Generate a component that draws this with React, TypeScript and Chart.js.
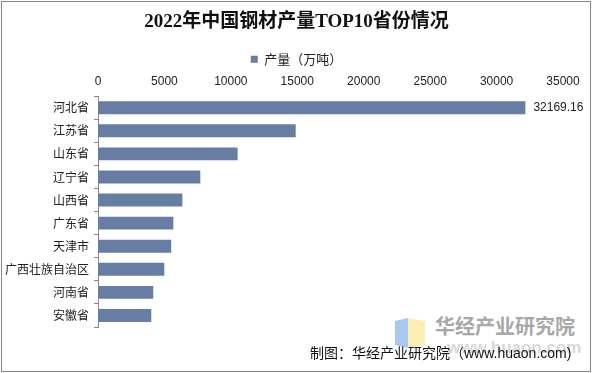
import React, { useEffect, useRef } from "react";
import { Chart, registerables } from "chart.js";

Chart.register(...registerables);

const title = "2022年中国钢材产量TOP10省份情况";
const seriesName = "产量（万吨）";
const provinces = ["河北省", "江苏省", "山东省", "辽宁省", "山西省", "广东省", "天津市", "广西壮族自治区", "河南省", "安徽省"];
const output = [32169.16, 14880, 10510, 7700, 6350, 5670, 5510, 4990, 4160, 4010];
const labelledIndex = [0];
const xMin = 0;
const xMax = 35000;
const xStep = 5000;

const barColor = "#667ea3";

const valueLabelPlugin = {
  id: "valueLabel",
  afterDatasetsDraw(chart: any) {
    const ctx = chart.ctx;
    const meta = chart.getDatasetMeta(0);
    ctx.save();
    ctx.font = '12px "Liberation Sans", Arial, sans-serif';
    ctx.fillStyle = "#222";
    ctx.textAlign = "left";
    ctx.textBaseline = "middle";
    labelledIndex.forEach((i) => {
      const el = meta.data[i];
      if (!el) return;
      ctx.fillText(String(output[i]), el.x + 8, el.y);
    });
    ctx.restore();
  },
};

export default function App() {
  const ref = useRef<HTMLCanvasElement>(null);
  useEffect(() => {
    if (!ref.current) return;
    const chart = new Chart(ref.current, {
      type: "bar",
      data: {
        labels: provinces,
        datasets: [
          {
            label: seriesName,
            data: output,
            backgroundColor: barColor,
            borderWidth: 0,
            categoryPercentage: 1,
            barPercentage: 0.56,
          },
        ],
      },
      options: {
        indexAxis: "y",
        responsive: false,
        animation: false,
        devicePixelRatio: 1,
        layout: { padding: { left: 0, right: 0, bottom: 46, top: 0 } },
        plugins: {
          tooltip: { enabled: false },
          title: {
            display: true,
            text: title,
            color: "#111",
            font: { family: '"Liberation Serif", "Noto Sans CJK SC", serif', size: 19, weight: "bold" },
            padding: { top: 11, bottom: 16 },
          },
          legend: {
            display: true,
            position: "top",
            maxHeight: 18,
            labels: {
              color: "#222",
              boxWidth: 7,
              boxHeight: 7,
              padding: 3,
              font: { family: '"Noto Sans CJK SC", sans-serif', size: 13 },
            },
          },
        },
        scales: {
          x: {
            position: "top",
            min: xMin,
            max: xMax,
            afterFit: (s: any) => {
              s.paddingRight = 30;
            },
            ticks: {
              stepSize: xStep,
              color: "#222",
              padding: 7,
              font: { family: '"Liberation Sans", Arial, sans-serif', size: 12 },
              callback: (v: any) => String(v),
            },
            grid: { display: false, drawTicks: false },
            border: { display: false },
          },
          y: {
            ticks: {
              color: "#222",
              padding: 5,
              font: { family: '"Noto Sans CJK SC", sans-serif', size: 12 },
            },
            grid: {
              drawOnChartArea: false,
              drawTicks: true,
              tickLength: 4,
              offset: true,
              color: "#888",
            },
            border: { display: true, color: "#888", width: 1 },
          },
        },
      },
      plugins: [valueLabelPlugin],
    });
    return () => chart.destroy();
  }, []);

  return (
    <div style={{ position: "fixed", left: 0, top: 0, width: 593, height: 373, background: "#fff", overflow: "hidden" }}>
      <div style={{ position: "absolute", left: 1, top: 1, width: 590, height: 371, boxSizing: "border-box", border: "1px solid #858585" }} />
      {/* watermark */}
      <div style={{ position: "absolute", left: 395, top: 318, width: 13, height: 30, background: "#a9c8ef", clipPath: "polygon(0 10%, 100% 0, 100% 100%, 0 90%)" }} />
      <div style={{ position: "absolute", left: 408, top: 318, width: 17, height: 30, background: "#fcefb4", clipPath: "polygon(0 0, 100% 10%, 100% 90%, 0 100%)" }} />
      <div style={{ position: "absolute", left: 435, top: 314, fontFamily: '"Noto Sans CJK SC", sans-serif', fontWeight: 700, fontSize: 20, lineHeight: "24px", color: "#a8a8a8", whiteSpace: "nowrap" }}>华经产业研究院</div>
      <div style={{ position: "absolute", left: 447, top: 338, fontFamily: '"Liberation Sans", Arial, sans-serif', fontWeight: 700, fontSize: 17, lineHeight: "20px", color: "#d8d8d8", whiteSpace: "nowrap" }}>www.huaon.com</div>
      <canvas ref={ref} width={593} height={373} style={{ position: "absolute", left: 0, top: 0, width: 593, height: 373 }} />
      <div style={{ position: "absolute", left: 310, top: 343, fontFamily: '"Noto Sans CJK SC", sans-serif', fontSize: 14, lineHeight: "18px", color: "#111", whiteSpace: "nowrap" }}>制图：华经产业研究院（<span style={{ fontFamily: '"Liberation Sans", Arial, sans-serif' }}>www.huaon.com)</span></div>
    </div>
  );
}
